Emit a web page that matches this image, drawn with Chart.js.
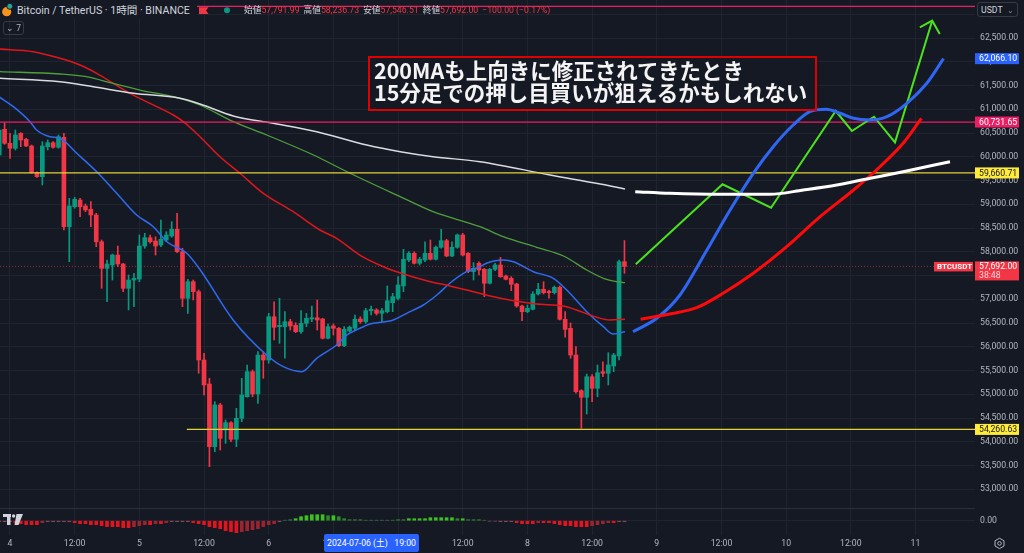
<!DOCTYPE html>
<html>
<head>
<meta charset="utf-8">
<script src="https://cdn.jsdelivr.net/npm/chart.js@4.4.1/dist/chart.umd.min.js"></script>
<style>
html,body{margin:0;padding:0;background:#151924;width:1024px;height:553px;overflow:hidden;font-family:Roboto,"Noto Sans CJK JP",sans-serif;}
canvas{display:block;}
#w1{position:absolute;left:0;top:0;width:1024px;height:509px;}
#w2{position:absolute;left:0;top:509px;width:1024px;height:44px;}
#sep{position:absolute;left:0;top:508px;width:975px;height:1px;background:#2a2e39;}
#hdrbg{position:absolute;left:0;top:0;width:197px;height:19px;background:#151924;}
#title{position:absolute;left:17px;top:3px;font-size:10.6px;line-height:15px;color:#d1d4dc;white-space:nowrap;}
#ohlc{position:absolute;left:244px;top:3px;font-size:8.7px;line-height:15px;color:#d1d4dc;white-space:nowrap;}
#ohlc .v{color:#f23645;margin-right:4px;}
#cnt{position:absolute;left:3px;top:21px;width:19px;height:12px;border:1px solid #363a45;border-radius:3px;font-size:8.5px;line-height:12px;color:#b2b5be;text-align:center;box-sizing:content-box;}
#usdt{position:absolute;left:977px;top:2px;width:41px;height:15px;border:1px solid #363a45;border-radius:3px;background:#151924;font-size:8.7px;line-height:15px;color:#d1d4dc;box-sizing:border-box;padding-left:3px;}
#usdt span{position:absolute;right:3px;top:0;color:#8a8e99;font-size:8px;}
#note{position:absolute;left:368px;top:56px;width:449px;height:55px;box-sizing:border-box;border:2px solid #e00000;background:#151924;padding:1px 0 0 4px;font-family:"Noto Sans CJK JP",sans-serif;font-weight:700;font-size:21.5px;line-height:21.6px;color:#f4f4f4;white-space:nowrap;}
#date{position:absolute;left:324px;top:534px;width:95px;height:18px;background:#2962ff;border-radius:2px;color:#fff;font-size:8.7px;line-height:18px;text-align:center;white-space:nowrap;}
</style>
</head>
<body>
<div id="w1"><canvas id="c1" width="1024" height="509"></canvas></div>
<div id="w2"><canvas id="c2" width="1024" height="44"></canvas></div>
<div id="sep"></div>
<div id="hdrbg"></div>
<svg style="position:absolute;left:0;top:0" width="240" height="20">
  <circle cx="6.7" cy="11.7" r="4.6" fill="#f7931a"/>
  <circle cx="9.8" cy="6.3" r="3" fill="#26a69a" stroke="#151924" stroke-width="1"/>
  <polygon points="199,7.3 208.5,7.3 206,10.6 208.5,14 199,14" fill="#f23645"/>
  <circle cx="227" cy="10.3" r="3" fill="#089981"/>
</svg>
<div id="title">Bitcoin / TetherUS · 1時間 · BINANCE</div>
<div id="ohlc">始値<span class="v">57,791.99</span>高値<span class="v">58,236.73</span>安値<span class="v">57,546.51</span>終値<span class="v">57,692.00</span><span class="v">−100.00 (−0.17%)</span></div>
<div id="cnt">⌄ 7</div>
<div id="usdt">USDT<span>⌄</span></div>
<div id="note">200MAも上向きに修正されてきたとき<br>15分足での押し目買いが狙えるかもしれない</div>
<div id="date">2024-07-06 (土)&nbsp;&nbsp;&nbsp;19:00</div>
<svg style="position:absolute;left:0;top:505px" width="30" height="30">
  <rect x="3" y="9" width="8" height="3" fill="#d1d4dc"/>
  <rect x="7" y="9" width="3.5" height="11" fill="#d1d4dc"/>
  <circle cx="13.6" cy="11" r="1.7" fill="#d1d4dc"/>
  <polygon points="16.5,9 23,9 18.5,20 14.5,20" fill="#d1d4dc"/>
</svg>
<svg style="position:absolute;left:990px;top:536px" width="20" height="17">
  <polygon points="5,4.8 9.5,2.2 14,4.8 14,10 9.5,12.6 5,10" fill="none" stroke="#b2b5be" stroke-width="1"/>
  <circle cx="9.5" cy="7.4" r="1.8" fill="none" stroke="#b2b5be" stroke-width="1"/>
</svg>
<script>
// ---------------- DATA ----------------
// hourly candles, hour 0 = 2024-07-04 00:00
const FIRST_HOUR = -2;
const opens = [60038,60579,60284,60179,60495,60368,60227,59665,59581,60213,60297,60200,60410,58528,58949,59090,58964,58895,58775,58212,57652,57722,57932,57743,57231,57406,57427,58122,58297,58227,58143,58248,58333,58474,58002,57021,57370,57160,55722,55217,53897,54775,54248,54402,54052,54494,54949,55476,55006,55827,55722,56633,56423,56423,56528,56452,56318,56495,56585,56612,56585,56179,56438,56389,56023,56332,56389,56585,56528,56760,56775,56705,56739,56928,57021,57280,57827,57968,57758,57827,57968,57842,58095,58234,57911,58095,58354,57968,57581,57758,57631,57337,57631,57722,57490,57442,57322,56859,56739,56789,57111,57210,57168,57139,57252,56579,56389,55827,55076,54937,55370,55126,55476,55442,55596,55806,57791.99];
const highs = [60606,60718,60495,60564,60507,60389,60248,59686,60318,60354,60318,60459,60495,59126,59147,59126,59006,59055,58810,58248,57827,57953,58122,57758,57511,57547,58354,58389,58354,58318,58669,58423,58634,58810,58074,57421,57406,57196,55863,55337,54844,54810,54459,54423,54705,55337,55617,55511,55897,55897,56705,56949,57021,56739,56579,56507,56760,56705,56859,56985,56600,56480,56480,56410,56423,56438,56669,56633,56810,56859,56802,56810,57280,57126,57476,58052,58002,58002,57884,58212,58248,58122,58474,58263,58212,58375,58389,57981,57772,57791,57652,57652,57758,57884,57511,57476,57337,56880,56880,57160,57337,57370,57196,57280,57280,56739,56501,56002,55097,55427,55413,55617,55686,55876,55863,57827,58236.73];
const lows = [59975,60263,59968,60143,60213,60213,59652,59568,59406,60143,60179,60179,58459,57791,58916,58739,58844,58528,58107,57231,56949,57406,57686,57160,56775,56844,57370,58074,58179,57932,58107,58212,58305,57981,56844,56705,56985,55442,54985,53476,53791,53827,53968,54002,53897,54423,54937,54949,54810,55337,55652,56143,56073,55758,56353,56297,56284,56423,56528,56353,56164,56164,56248,56002,56002,56318,56353,56495,56495,56669,56669,56528,56711,56739,56985,57160,57791,57743,57722,57791,57827,57827,58074,57897,57897,58074,57911,57560,57406,57511,57055,57322,57603,57462,57406,57181,56832,56549,56718,56775,57090,57111,57021,57111,56564,56200,55758,55021,54284,54585,54844,54949,55370,55196,55476,55722,57546.51];
const closes = [60564,60284,60179,60459,60354,60227,59665,59581,60227,60297,60200,60423,58528,58964,59105,58949,58880,58775,58212,57652,57743,57932,57743,57231,57406,57442,58122,58297,58212,58122,58263,58354,58474,58002,57021,57370,57160,55722,55196,53897,54775,54073,54402,54052,54494,54985,55476,55006,55827,55722,56633,56410,56452,56528,56438,56318,56495,56600,56612,56564,56179,56423,56389,56023,56368,56410,56579,56528,56760,56789,56705,56760,56970,57055,57301,57842,57968,57758,57842,57968,57842,58095,58234,57911,58095,58354,57932,57581,57652,57617,57337,57631,57722,57476,57421,57316,56859,56739,56810,57111,57210,57139,57139,57252,56579,56368,55827,55055,54937,55370,55126,55454,55442,55617,55827,57791,57692.00];
const histValues = [-1,-1,-1,-2,-3,-4,-4,-4,-2,-1,-1,-1,-1,-1,-2,-3,-3,-4,-4,-5,-6,-6,-6,-7,-7,-6,-5,-4,-4,-3,-3,-2,-1,-1,-1,-1,-2,-3,-4,-6,-7,-8,-10,-11,-12,-11,-10,-9,-8,-6,-4,-3,-1,0.5,1,2,4,5,6,6,6,5,5,4,2,1,1,1,0.5,0.5,0.5,0.5,0.5,0.5,1,1,2,2,2,2,3,3,3,3,3,2,2,1,1,1,0.5,-0.5,-0.5,-1,-1,-1,-2,-3,-3,-3,-2,-2,-2,-3,-4,-5,-5,-6,-6,-6,-5,-4,-3,-2,-2,-1,-1,-1,-1];

// moving averages (hour, price)
const ma20Hours  = [-2,0.62,3.71,4.95,7.42,9.28,12.38,16.09,19.8,23.5,26.6,29.1,32.8,35.3,41.4,47.6,50.7,54.1,56.9,60.6,62.5,64.9,66.8,71.1,73.6,76.7,79.2,81.6,84.7,87.2,88.4,91.5,93.4,97.1,100.8,103.3,107,110.1,111.9,114.1];
const ma20Values = [61260,61055,60739,60564,60423,60389,60074,59686,59232,58775,58528,58212,57968,57617,56564,55827,55581,55476,55758,56038,56248,56389,56480,56564,56705,56880,57090,57337,57581,57686,57758,57827,57791,57581,57442,57196,56739,56423,56269,56318];
const ma50Hours  = [-2,4.32,9.28,12.99,16.09,19.17,22.26,25.97,30.3,32.15,35.25,38.96,42.67,47,52.56,57.5,60.6,64.9,69.3,73,77.3,81.6,85.3,89.1,93.4,97.7,102.7,105.1,108.9,111.3,114.1];
const ma50Values = [62268,62213,62074,61933,61758,61547,61337,61126,60880,60739,60423,60002,59653,59232,58844,58459,58284,57932,57686,57533,57392,57280,57181,57069,56970,56901,56859,56775,56621,56564,56579];
const ma100Hours  = [-2,9.28,14.84,18.55,24.12,31.54,35.25,41.43,47.63,56.3,63.1,72.4,78.5,87.2,91.5,97.7,102.7,107,110.1,112.5,114.1];
const ma100Values = [61794,61743,61674,61560,61406,61232,61090,60739,60459,60038,59653,59160,58844,58528,58318,58095,57912,57617,57442,57371,57350];
const ma200Hours  = [-2,9.28,15.45,22.9,31.54,35.25,41.43,48.85,56.9,66.2,72.4,78.5,87.2,100.2,109.5,114.1];
const ma200Values = [61655,61581,61476,61337,61232,61111,60859,60705,60528,60248,60107,60002,59897,59617,59427,59322];

// hand drawings on the chart (hour, price)
const drawWhiteHours  = [116,122.4,131.7,141,147.2,153.4,159.6,165.7,174.4];
const drawWhiteValues = [59265,59231,59210,59210,59301,59406,59547,59686,59897];
const drawBlueHours   = [115.6,120,124.3,129.3,133.6,137.9,141.6,145.3,148.4,151.5,154,156.5,159.6,162.7,166.4,170.1,173.2];
const drawBlueValues  = [56318,56600,57090,58038,58880,59652,60213,60669,60950,61000,60916,60810,60775,60845,61126,61547,62066.10];
const drawRedHours    = [117,122.4,127.4,132.3,137.9,144.1,150.3,156.5,161.4,165.7,169.1];
const drawRedValues   = [56579,56690,56823,57126,57547,58107,58739,59301,59791,60284,60810];
const drawGreenHours  = [116.1,132.2,141.2,153.2,156.2,160.3,164.2,171.1];
const drawGreenValues = [57737,59421,58928,60964,60543,60844,60305,62865];
const arrowHours  = [168.8,171.1,172.5];
const arrowValues = [62726,62865,62585];

// horizontal levels
const levelPrices = [63168, 60731.65, 59660.71, 54260.63];
const levelStartHours = [null, null, null, 32.8];
const levelColors = ['#e91e63','#e91e63','#e3d13a','#e3d13a'];

// axis ticks
const priceTicks = [53000,53500,54000,54500,55000,55500,56000,56500,57000,57500,58000,58500,59000,59500,60000,60500,61000,61500,62000,62500,63000];
const timeTicks = [0,12,24,36,48,60,72,84,96,108,120,132,144,156,168];
const firstDay = 4;
const countdown = '38:48';
const symbol = 'BTCUSDT';
const axisTags = [
  {value: 62066.10, bg:'#2962ff', fg:'#ffffff'},
  {value: 60731.65, bg:'#e91e63', fg:'#ffffff'},
  {value: 59660.71, bg:'#ffeb3b', fg:'#131722'},
  {value: 54260.63, bg:'#ffeb3b', fg:'#131722'}
];

// ---------------- CHART ----------------
const XMIN = -1.855, XMAX = 179.04;
const YMIN = 52585, YMAX = 63301;
const GRID = '#20242f';
const UP = '#089981', DOWN = '#f23645';
const AXFONT = {family:'Roboto', size:8.7};
const fmt = v => Number(v).toLocaleString('en-US',{minimumFractionDigits:2, maximumFractionDigits:2});
const pts = (hs, vs) => hs.map((h,i)=>({x:h, y:vs[i]}));

const hours = opens.map((_, i) => FIRST_HOUR + i);
const candleColors = opens.map((o,i) => closes[i] >= o ? UP : DOWN);

const lineDs = (data, color, width, order, extra) => Object.assign({
  type:'line', data, borderColor:color, borderWidth:width, pointRadius:0,
  fill:false, order, cubicInterpolationMode:'monotone'
}, extra||{});

const datasets = [];
levelPrices.forEach((p,i)=>{
  datasets.push(lineDs([{x: levelStartHours[i]===null?XMIN:levelStartHours[i], y:p},{x:XMAX,y:p}], levelColors[i], 1.3, 1, {cubicInterpolationMode:'default', tension:0}));
});
const lastClose = closes[closes.length-1];
datasets.push(lineDs([{x:XMIN,y:lastClose},{x:XMAX,y:lastClose}], 'rgba(242,54,69,0.55)', 1, 1, {borderDash:[1,2], tension:0, cubicInterpolationMode:'default'}));
datasets.push(lineDs(pts(drawWhiteHours, drawWhiteValues), '#ffffff', 3, 0));
datasets.push(lineDs(pts(drawRedHours, drawRedValues), '#ff0a0a', 3, 0));
datasets.push(lineDs(pts(drawBlueHours, drawBlueValues), '#2f67f5', 3, 0));
datasets.push(lineDs(pts(drawGreenHours, drawGreenValues), '#4be31c', 2, 0, {tension:0, cubicInterpolationMode:'default'}));
datasets.push(lineDs(pts(arrowHours, arrowValues), '#4be31c', 2, 0, {tension:0, cubicInterpolationMode:'default'}));
datasets.push(lineDs(pts(ma200Hours, ma200Values), '#d9dbe0', 1.5, 2));
datasets.push(lineDs(pts(ma100Hours, ma100Values), '#4f9f3c', 1.3, 2));
datasets.push(lineDs(pts(ma50Hours, ma50Values), '#e0161b', 1.5, 2));
datasets.push(lineDs(pts(ma20Hours, ma20Values), '#2f6bf0', 1.5, 2));
datasets.push({type:'bar', data: hours.map((h,i)=>({x:h, y:[opens[i], closes[i]]})), backgroundColor:candleColors, barThickness:4, grouped:false, minBarLength:1, borderWidth:0, order:3});
datasets.push({type:'bar', data: hours.map((h,i)=>({x:h, y:[lows[i], highs[i]]})), backgroundColor:candleColors, barThickness:1, grouped:false, borderWidth:0, order:4});

const tagPlugin = {
  id:'tags',
  afterDraw(chart){
    const ctx = chart.ctx, ys = chart.scales.y, L = chart.chartArea.right;
    ctx.save();
    ctx.font = '8.7px Roboto';
    ctx.textBaseline = 'middle';
    axisTags.forEach(t=>{
      const py = ys.getPixelForValue(t.value);
      ctx.fillStyle = t.bg; ctx.fillRect(L, py-5.5, 44, 11);
      ctx.fillStyle = t.fg; ctx.fillText(fmt(t.value), L+4, py+0.5);
    });
    const py = ys.getPixelForValue(lastClose);
    ctx.fillStyle = DOWN; ctx.fillRect(L, py-5, 44, 19);
    ctx.fillStyle = '#ffffff'; ctx.fillText(fmt(lastClose), L+4, py+0.5);
    ctx.fillStyle = 'rgba(255,255,255,0.8)'; ctx.fillText(countdown, L+4, py+9.5);
    ctx.fillStyle = DOWN; ctx.fillRect(L-41, py-4.5, 39, 9.5);
    ctx.fillStyle = '#ffffff'; ctx.font = 'bold 8px Roboto'; ctx.fillText(symbol, L-38, py+0.5);
    ctx.restore();
  }
};

new Chart(document.getElementById('c1'), {
  type:'bar',
  data:{datasets},
  options:{
    responsive:false, animation:false, events:[],
    layout:{padding:0},
    plugins:{legend:{display:false}, tooltip:{enabled:false}},
    scales:{
      x:{type:'linear', min:XMIN, max:XMAX, offset:false,
         grid:{color:GRID, drawTicks:false, offset:false}, border:{display:false},
         ticks:{display:false},
         afterBuildTicks: s => { s.ticks = timeTicks.map(v=>({value:v})); },
         afterFit: s => { s.height = 0; s.paddingLeft = 0; s.paddingRight = 0; }},
      y:{type:'linear', position:'right', min:YMIN, max:YMAX,
         grid:{color:GRID, drawTicks:false}, border:{display:false},
         ticks:{color:'#b2b5be', font:AXFONT, padding:5, callback:v=>fmt(v)},
         afterBuildTicks: s => { s.ticks = priceTicks.map(v=>({value:v})); },
         afterFit: s => { s.width = 49; s.paddingTop = 0; s.paddingBottom = 0; }}
    }
  },
  plugins:[tagPlugin]
});

const histColors = histValues.map((v,i)=>{
  const p = i ? histValues[i-1] : v;
  if (Math.abs(v) <= 1) return v >= 0 ? '#3f7d3a' : '#8a4a55';
  if (v >= 0) return v >= p ? '#3cc21e' : '#2b8a25';
  return v <= p ? '#e3141e' : '#9a2430';
});

new Chart(document.getElementById('c2'), {
  type:'bar',
  data:{datasets:[{data: hours.map((h,i)=>({x:h, y:histValues[i]})), backgroundColor:histColors, barThickness:3, borderWidth:0, grouped:false}]},
  options:{
    responsive:false, animation:false, events:[],
    layout:{padding:0},
    plugins:{legend:{display:false}, tooltip:{enabled:false}},
    scales:{
      x:{type:'linear', min:XMIN, max:XMAX, offset:false,
         grid:{color:GRID, drawTicks:false, offset:false}, border:{display:false},
         ticks:{color:'#b2b5be', font:AXFONT, padding:4, maxRotation:0, autoSkip:false,
                callback:v => (v % 24 === 0) ? String(firstDay + v/24) : '12:00'},
         afterBuildTicks: s => { s.ticks = timeTicks.map(v=>({value:v})); },
         afterFit: s => { s.height = 18; s.paddingLeft = 0; s.paddingRight = 0; }},
      y:{type:'linear', position:'right', min:-14.3, max:11.7,
         grid:{color:GRID, drawTicks:false}, border:{display:false},
         ticks:{color:'#b2b5be', font:AXFONT, padding:5, callback:v=>fmt(v)},
         afterBuildTicks: s => { s.ticks = [{value:0}]; },
         afterFit: s => { s.width = 49; s.paddingTop = 0; s.paddingBottom = 0; }}
    }
  }
});
</script>
</body>
</html>
